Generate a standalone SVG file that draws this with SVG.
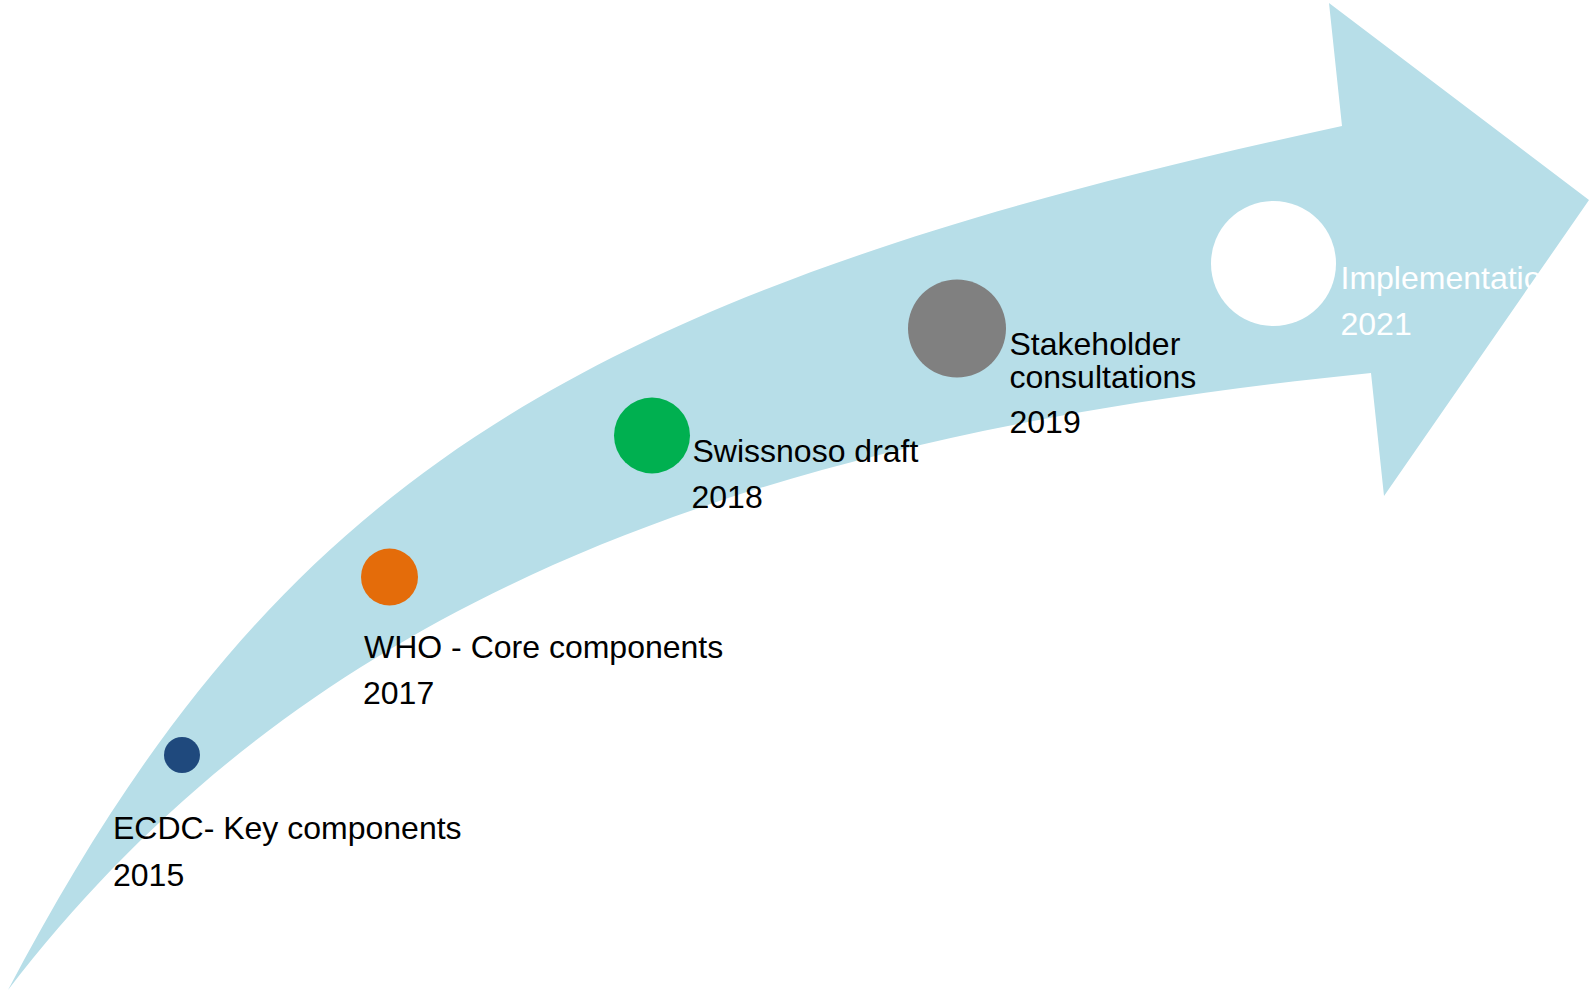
<svg xmlns="http://www.w3.org/2000/svg" width="1592" height="995" viewBox="0 0 1592 995">
<style>
.lbl{font-family:"Liberation Sans",Arial,sans-serif;font-size:32px;fill:#000}
.lbl.w{fill:#fff}
</style>
<rect width="1592" height="995" fill="#fff"/>
<g id="timeline-arrow">
<path d="M 8 990 C 274.8 483, 568.2 292.9, 1342 126 L 1329 3 L 1589 200 L 1384 496 L 1371 373 C 697.3 440.3, 288.4 625.4, 8 990 Z" fill="#b7dee8"/>
</g>
<g id="connectors"></g>
<g id="ecdc">
<circle cx="182" cy="755" r="18" fill="#1f497d"/>
<text class="lbl" x="113" y="839">ECDC- Key components</text>
<text class="lbl" x="113" y="886">2015</text>
</g>
<g id="who">
<circle cx="389.5" cy="577" r="28.5" fill="#e46c0a"/>
<text class="lbl" x="364" y="658">WHO - Core components</text>
<text class="lbl" x="363" y="704">2017</text>
</g>
<g id="swissnoso">
<circle cx="652" cy="435.5" r="38" fill="#00b050"/>
<text class="lbl" x="692.5" y="462">Swissnoso draft</text>
<text class="lbl" x="691.5" y="508">2018</text>
</g>
<g id="stakeholder">
<circle cx="957" cy="328.5" r="49" fill="#808080"/>
<text class="lbl" x="1009.5" y="355">Stakeholder</text>
<text class="lbl" x="1009.5" y="388">consultations</text>
<text class="lbl" x="1009.5" y="433">2019</text>
</g>
<g id="implementation">
<circle cx="1273.5" cy="263.5" r="62.5" fill="#fff"/>
<text class="lbl w" x="1340.5" y="289">Implementation</text>
<text class="lbl w" x="1340.5" y="335">2021</text>
</g>
</svg>
